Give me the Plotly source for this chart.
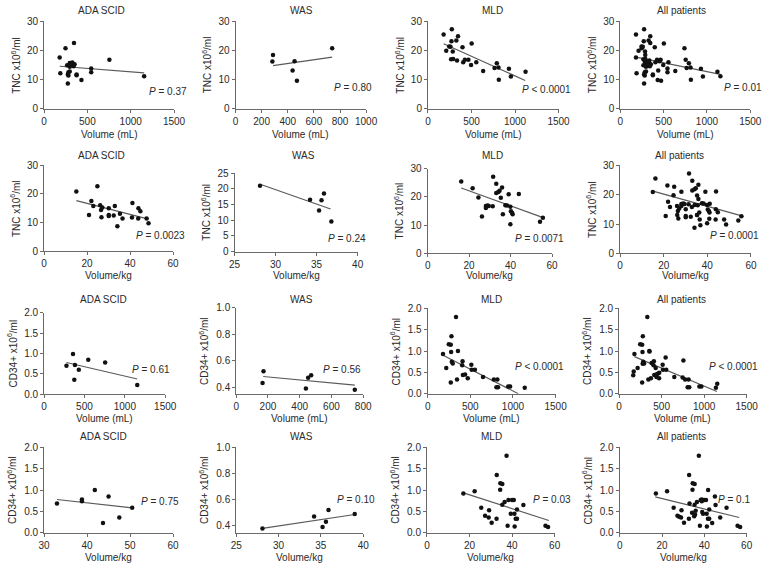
import plotly.graph_objects as go

W, H = 774, 570

# ---------------- DATA ----------------
titles = ["ADA SCID", "WAS", "MLD", "All patients"]

# Row 1: TNC (x10^6/ml) vs Volume (mL)
ada_vol_tnc_x = [180, 187, 247, 345, 274, 266, 296, 326, 352, 334, 296, 281, 296, 274, 281,
                 375, 375, 431, 544, 544, 754, 1155, 310, 340]
ada_vol_tnc_y = [17.6, 12.2, 20.8, 22.6, 8.7, 14.9, 15.7, 15.9, 15.3, 14.8, 14.4, 12.5, 12.8, 11.8, 11.4,
                 11.8, 11.5, 9.9, 13.8, 12.5, 16.8, 11.2, 15.2, 14.6]
was_vol_tnc_x = [287, 282, 452, 437, 470, 740]
was_vol_tnc_y = [18.5, 16.2, 16.3, 13.1, 9.6, 20.8]
mld_vol_tnc_x = [180, 274, 210, 244, 270, 259, 285, 266, 289, 326, 345, 334, 397, 405, 424,
                 465, 502, 495, 555, 634, 765, 791, 810, 814, 930, 953, 1121]
mld_vol_tnc_y = [25.5, 27.3, 19.9, 21.4, 23.2, 21.3, 19.7, 17.0, 17.1, 23.4, 24.9, 16.6, 21.1, 16.0, 16.8,
                 16.8, 22.4, 15.0, 16.0, 13.0, 14.0, 15.6, 14.2, 10.0, 13.7, 11.1, 12.7]

# Row 2: TNC vs Volume/kg
ada_kg_tnc_x = [15.0, 24.8, 22.0, 22.9, 26.1, 26.5, 27.1, 20.9, 26.7, 30.1, 30.1, 30.1, 32.4, 32.9,
                35.3, 34.1, 36.5, 41.1, 40.9, 43.8, 43.9, 44.8, 47.7, 48.6]
ada_kg_tnc_y = [20.9, 22.7, 17.6, 15.8, 16.1, 14.4, 15.3, 12.7, 11.9, 15.0, 12.7, 12.3, 12.5, 15.8,
                13.1, 8.75, 11.5, 16.9, 11.8, 11.5, 15.0, 14.0, 11.5, 9.8]
was_kg_tnc_x = [28.1, 34.2, 35.6, 35.3, 35.9, 36.8]
was_kg_tnc_y = [21.0, 16.5, 16.4, 13.1, 18.5, 9.6]
mld_kg_tnc_x = [16.2, 21.7, 24.5, 26.2, 28.1, 28.1, 28.9, 29.5, 31.6, 31.4, 33.1, 33.1, 34.1, 34.7,
                35.9, 35.3, 36.3, 37.5, 38.3, 39.1, 39.9, 40.2, 40.7, 41.0, 39.9, 44.0, 54.2, 55.6]
mld_kg_tnc_y = [25.5, 23.1, 19.8, 13.1, 16.8, 16.1, 17.0, 16.8, 27.2, 16.7, 24.7, 21.4, 21.8, 22.2,
                23.4, 19.7, 13.9, 17.1, 17.0, 21.0, 16.5, 14.9, 14.4, 13.9, 10.3, 21.1, 11.2, 12.6]

# Row 3: CD34+ (x10^6/ml) vs Volume (mL)
ada_vol_cd34_x = [277, 358, 382, 374, 430, 547, 756, 1154]
ada_vol_cd34_y = [0.70, 0.99, 0.72, 0.36, 0.60, 0.85, 0.78, 0.23]
was_vol_cd34_x = [172, 166, 439, 453, 472, 747]
was_vol_cd34_y = [0.52, 0.43, 0.39, 0.47, 0.49, 0.38]
mld_vol_cd34_x = [180, 218, 248, 271, 279, 275, 283, 294, 271, 332, 355, 344, 409, 405,
                  413, 439, 470, 516, 512, 554, 649, 776, 817, 806, 825, 944, 967, 1138]
mld_vol_cd34_y = [0.93, 0.60, 1.16, 1.15, 1.35, 0.98, 0.75, 0.71, 0.26, 1.80, 1.00, 0.33, 0.76, 0.67,
                  0.44, 0.45, 0.36, 0.56, 0.68, 0.56, 0.39, 0.33, 0.33, 0.15, 0.15, 0.17, 0.17, 0.14]

# Row 4: CD34+ vs Volume/kg
ada_kg_cd34_x = [33.0, 38.8, 38.8, 41.8, 45.0, 43.7, 47.5, 50.5]
ada_kg_cd34_y = [0.69, 0.78, 0.74, 1.00, 0.85, 0.23, 0.36, 0.59]
was_kg_cd34_x = [28.1, 34.2, 35.2, 35.6, 35.9, 39.0]
was_kg_cd34_y = [0.38, 0.47, 0.39, 0.43, 0.52, 0.49]
mld_kg_cd34_x = [17.1, 22.4, 25.5, 27.3, 29.2, 29.0, 30.4, 32.8, 32.7, 34.4, 34.5, 35.4, 35.4, 36.5,
                 37.4, 37.9, 38.3, 40.0, 40.8, 39.4, 41.1, 41.2, 41.7, 42.3, 42.3, 45.3, 55.7, 56.9]
mld_kg_cd34_y = [0.92, 0.97, 0.59, 0.40, 0.53, 0.36, 0.24, 1.35, 0.33, 1.01, 1.16, 1.14, 0.66, 0.72,
                 1.80, 0.17, 0.77, 0.77, 0.77, 0.45, 0.45, 0.15, 0.33, 0.33, 0.55, 0.65, 0.17, 0.14]

# Regression lines: [x_start, x_end], [y_start, y_end]
fit_x = [[180, 1155], [287, 740], [180, 1117], [180, 1155],
         [15, 48.6], [28.3, 36.7], [16.2, 55.7], [15.1, 56.6],
         [277, 1154], [170, 747], [180, 1062], [180, 1150],
         [33.0, 50.5], [28.1, 39.0], [16.8, 57.3], [16.8, 56.5]]
fit_y = [[14.6, 12.3], [14.8, 17.7], [22.3, 9.7], [17.7, 11.8],
         [17.7, 11.25], [21.3, 13.6], [23.2, 12.7], [21.2, 12.6],
         [0.78, 0.376], [0.48, 0.415], [0.90, 0.0], [0.87, 0.05],
         [0.78, 0.585], [0.38, 0.486], [0.94, 0.29], [0.84, 0.36]]

p_labels = ["<i>P</i> = 0.37", "<i>P</i> = 0.80", "<i>P</i> < 0.0001", "<i>P</i> = 0.01",
            "<i>P</i> = 0.0023", "<i>P</i> = 0.24", "<i>P</i> = 0.0071", "<i>P</i> = 0.0001",
            "<i>P</i> = 0.61", "<i>P</i> = 0.56", "<i>P</i> < 0.0001", "<i>P</i> < 0.0001",
            "<i>P</i> = 0.75", "<i>P</i> = 0.10", "<i>P</i> = 0.03", "<i>P</i> = 0.1"]

x_titles = ["Volume (mL)", "Volume/kg", "Volume (mL)", "Volume/kg"]
y_titles = ["TNC x10<sup>6</sup>/ml", "TNC x10<sup>6</sup>/ml",
            "CD34+ x10<sup>6</sup>/ml", "CD34+ x10<sup>6</sup>/ml"]

x_ranges = [[0, 1500], [0, 1000], [0, 1500], [0, 1500],
            [0, 60], [25, 40], [0, 60], [0, 60],
            [0, 1500], [0, 800], [0, 1500], [0, 1500],
            [30, 60], [25, 40], [0, 60], [0, 60]]
x_dticks = [500, 200, 500, 500, 20, 5, 20, 20, 500, 200, 500, 500, 10, 5, 20, 20]
y_ranges = [[0, 30], [0, 30], [0, 30], [0, 30],
            [0, 30], [0, 25], [0, 30], [0, 30],
            [0, 2], [0.345, 1.0], [0, 2], [0, 2],
            [0, 2], [0.345, 1.0], [0, 2], [0, 2]]
y_ticks = [[0, 10, 20, 30]] * 4 + [[0, 10, 20, 30], [0, 5, 10, 15, 20, 25], [0, 10, 20, 30], [0, 10, 20, 30]] + \
          [[0, 0.5, 1.0, 1.5, 2.0], [0.4, 0.6, 0.8, 1.0], [0, 0.5, 1.0, 1.5, 2.0], [0, 0.5, 1.0, 1.5, 2.0]] * 2

# ---------------- LAYOUT (pixel boxes: left, right, top, bottom) ----------------
boxes = [
    (39, 172, 15.7, 105), (235, 368.7, 15.7, 105), (432, 565.7, 15.7, 105), (629, 762, 15.7, 105),
    (39, 171, 162.7, 250.7), (234, 360, 170.7, 251), (431.7, 559, 166.3, 252.7), (628.7, 762.7, 162.7, 252.7),
    (39, 163, 313.3, 396.7), (235.7, 365.7, 308.3, 396.7), (431.7, 562.7, 309, 396), (627.7, 758.3, 309, 396),
    (39, 171, 450.7, 538.3), (235.7, 365.7, 450.7, 538.3), (431, 561.7, 450.7, 538.3), (628.3, 758.3, 450.7, 538.3),
]
title_pos = [(98, 5), (303, 5), (498, 5), (692, 5),
             (98, 153), (305, 153), (498, 153), (690, 153),
             (100, 300), (303, 300), (497, 300), (692, 300),
             (100, 440), (303, 440), (497, 440), (692, 440)]
p_pos = [(144, 87), (334, 83), (526, 85), (733, 83),
         (131, 234), (328, 238), (519, 237), (719, 234),
         (127, 371), (322, 371), (519, 368), (718, 368),
         (136, 506), (337, 504), (537, 504), (727, 504)]
xt_y = [131, 275, 421, 563]
yt_off = [29, 29, 33, 33]

groups_x = [
    [ada_vol_tnc_x, was_vol_tnc_x, mld_vol_tnc_x],
    [ada_kg_tnc_x, was_kg_tnc_x, mld_kg_tnc_x],
    [ada_vol_cd34_x, was_vol_cd34_x, mld_vol_cd34_x],
    [ada_kg_cd34_x, was_kg_cd34_x, mld_kg_cd34_x],
]
groups_y = [
    [ada_vol_tnc_y, was_vol_tnc_y, mld_vol_tnc_y],
    [ada_kg_tnc_y, was_kg_tnc_y, mld_kg_tnc_y],
    [ada_vol_cd34_y, was_vol_cd34_y, mld_vol_cd34_y],
    [ada_kg_cd34_y, was_kg_cd34_y, mld_kg_cd34_y],
]

FONT = "Liberation Sans, Arial, sans-serif"
TXT = "#2a2a2a"
AXC = "#6a6a6a"

fig = go.Figure()
annotations = []
layout_axes = {}

for r in range(4):
    for c in range(4):
        i = r * 4 + c
        n = i + 1
        xa = "x" if n == 1 else f"x{n}"
        ya = "y" if n == 1 else f"y{n}"
        if c < 3:
            xs, ys = groups_x[r][c], groups_y[r][c]
        else:
            xs = groups_x[r][0] + groups_x[r][1] + groups_x[r][2]
            ys = groups_y[r][0] + groups_y[r][1] + groups_y[r][2]
        fig.add_trace(go.Scatter(x=fit_x[i], y=fit_y[i], mode="lines",
                                 line=dict(color="#5a5a5a", width=1.2),
                                 xaxis=xa, yaxis=ya, showlegend=False, hoverinfo="skip"))
        fig.add_trace(go.Scatter(x=xs, y=ys, mode="markers",
                                 marker=dict(color="#111111", size=4.5),
                                 cliponaxis=False,
                                 xaxis=xa, yaxis=ya, showlegend=False))
        l, rr, t, b = boxes[i]
        yfmt = ".1f" if r >= 2 else "d"
        layout_axes[f"xaxis{'' if n == 1 else n}"] = dict(
            domain=[l / W, rr / W], anchor=ya, range=x_ranges[i], dtick=x_dticks[i],
            tick0=x_ranges[i][0], showline=True, linecolor=AXC, linewidth=1,
            ticks="outside", ticklen=3, tickcolor=AXC, showgrid=False, zeroline=False,
            tickfont=dict(family=FONT, size=10, color=TXT), fixedrange=True)
        layout_axes[f"yaxis{'' if n == 1 else n}"] = dict(
            domain=[1 - b / H, 1 - t / H], anchor=xa, range=y_ranges[i],
            tickmode="array", tickvals=y_ticks[i], tickformat=yfmt,
            showline=True, linecolor=AXC, linewidth=1,
            ticks="outside", ticklen=3, tickcolor=AXC, showgrid=False, zeroline=False,
            tickfont=dict(family=FONT, size=10, color=TXT), fixedrange=True)
        tx, ty = title_pos[i]
        annotations.append(dict(text=titles[c], x=tx / W, y=1 - ty / H, xref="paper", yref="paper",
                                xanchor="center", yanchor="middle", showarrow=False,
                                font=dict(family=FONT, size=10, color=TXT)))
        px, py = p_pos[i]
        annotations.append(dict(text=p_labels[i], x=px / W, y=1 - py / H, xref="paper", yref="paper",
                                xanchor="left", yanchor="middle", showarrow=False,
                                font=dict(family=FONT, size=10, color=TXT)))
        annotations.append(dict(text=x_titles[r], x=(l + rr) / 2 / W, y=1 - xt_y[r] / H,
                                xref="paper", yref="paper", xanchor="center", yanchor="middle",
                                showarrow=False, font=dict(family=FONT, size=10, color=TXT)))
        annotations.append(dict(text=y_titles[r], x=(l - yt_off[r]) / W, y=1 - (t + b) / 2 / H,
                                xref="paper", yref="paper", xanchor="center", yanchor="middle",
                                textangle=-90, showarrow=False,
                                font=dict(family=FONT, size=10, color=TXT)))

fig.update_layout(width=W, height=H, margin=dict(l=0, r=0, t=0, b=0),
                  paper_bgcolor="white", plot_bgcolor="white",
                  annotations=annotations, showlegend=False, **layout_axes)

fig.write_html("out.html", config={"displayModeBar": False},
               post_script="document.body.style.margin='0';document.body.style.overflow='hidden';")
